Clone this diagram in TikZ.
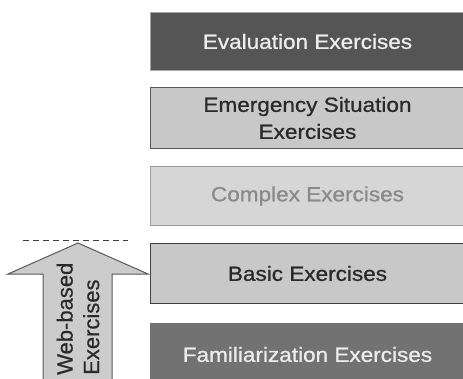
\documentclass[tikz,border=0pt]{standalone}
\usepackage{fontspec}
\setmainfont{Liberation Sans}
\newfontfamily\boxfont[FakeStretch=1.1,FakeBold=0.8]{Liberation Sans}
\newfontfamily\arrowfont[FakeBold=0.6]{Liberation Sans}
\definecolor{evalfill}{HTML}{555555}
\definecolor{emfill}{HTML}{C8C8C8}
\definecolor{cxfill}{HTML}{D6D6D6}
\definecolor{cxtext}{HTML}{8A8A8A}
\definecolor{famfill}{HTML}{727272}
\definecolor{darktext}{HTML}{2A2A2A}
\definecolor{lighttext}{HTML}{EDEDED}
\definecolor{arrowfill}{HTML}{CCCCCC}
\begin{document}
\begin{tikzpicture}[x=1pt,y=1pt,
  levelbox/.style={rectangle, anchor=north west, minimum width=314pt, minimum height=#1, inner sep=0pt, align=center, font=\boxfont\fontsize{20.5}{27}\selectfont, line width=1pt},
  arrowtext/.style={rotate=90, anchor=west, align=left, inner sep=0pt, font=\arrowfont\fontsize{22}{26.5}\selectfont, text=darktext}]
\useasboundingbox (0,0) rectangle (463,378);
\clip (0,0) rectangle (463,378);
\fill[white] (0,0) rectangle (463,378);
% level boxes
\node[levelbox=58pt, fill=evalfill, draw=gray!70, text=lighttext] (eval) at (150,366) {Evaluation Exercises};
\node[levelbox=61pt, fill=emfill, draw=black!65, text=darktext] (emerg) at (150,291) {Emergency Situation\\Exercises};
\node[levelbox=59pt, fill=cxfill, draw=black!40, text=cxtext] (complex) at (150,212) {Complex Exercises};
\node[levelbox=60pt, fill=emfill, draw=black!75, text=darktext] (basic) at (150,135) {Basic Exercises};
\node[levelbox=62pt, fill=famfill, draw=famfill, text=lighttext] (famil) at (150,55) {Familiarization Exercises};
% dashed line
\coordinate (dl) at (23,138);
\coordinate (dr) at (128,138);
\draw[dashed, dash pattern=on 6pt off 4pt, black!75, line width=1pt] (dl) -- (dr);
% arrow
\coordinate (tip) at (78,135);
\draw[fill=arrowfill, draw=black!65, line width=1pt]
  (43,-2) -- (43,104) -- (8,104) -- (tip) -- (148,104) -- (112,104) -- (112,-2);
\node[arrowtext] (web) at (78,3) {Web-based\\Exercises};
\end{tikzpicture}
\end{document}
